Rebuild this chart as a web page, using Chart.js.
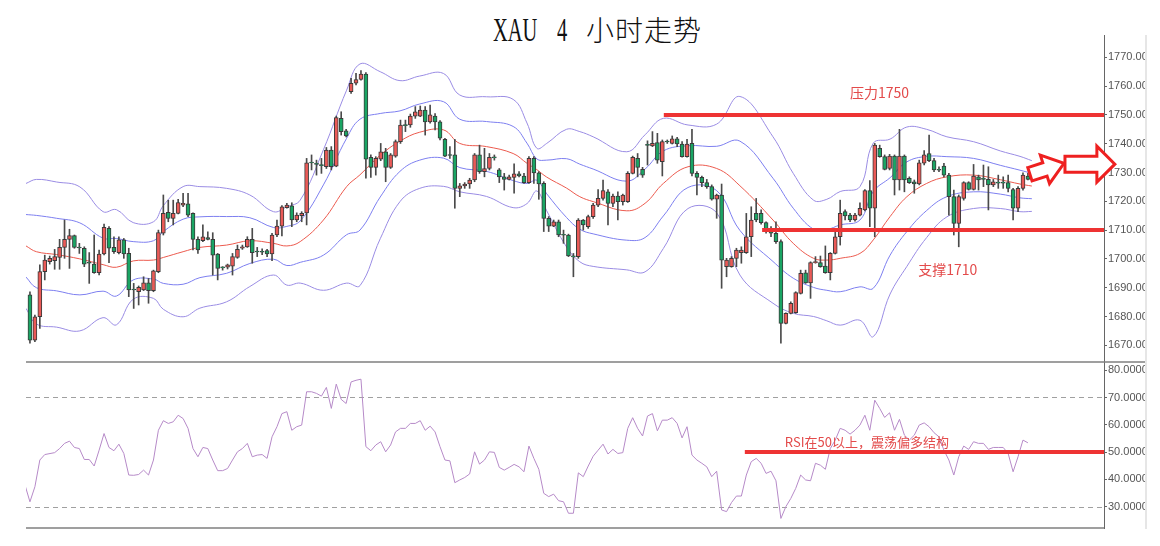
<!DOCTYPE html>
<html lang="zh">
<head>
<meta charset="utf-8">
<title>XAU 4 小时走势</title>
<script src="https://cdn.jsdelivr.net/npm/chart.js@4.4.1/dist/chart.umd.min.js"></script>
<style>
  body { margin: 0; background: #fff; }
  #page { position: relative; width: 1160px; height: 546px; overflow: hidden; background: #fff; }
  #title span { position: absolute; white-space: pre; color: #111; }
  #title .lat { top: 14px; font: 33px/33px 'Liberation Serif', serif; transform: scaleX(0.62); transform-origin: 0 0; }
  #title .cjk { top: 15px; left: 586px; font: 300 28px/28px 'Noto Sans CJK SC', sans-serif; letter-spacing: 1px; }
  .panel { position: absolute; left: 0; width: 1145px; }
  #main-panel { top: 35px; height: 327px; }
  #rsi-panel { top: 361px; height: 168px; }
  #edge { position: absolute; left: 1145px; top: 35px; width: 2px; height: 494px; background: #e6e6e6; }
</style>
</head>
<body>
<div id="page">
  <div id="title"><span class="lat" style="left:493px">XAU</span><span class="lat" style="left:557px">4</span><span class="cjk">小时走势</span></div>
  <div class="panel" id="main-panel"><canvas id="main-chart"></canvas></div>
  <div class="panel" id="rsi-panel"><canvas id="rsi-chart"></canvas></div>
  <div id="edge"></div>
</div>
<script>
// 4h candles, index 0 = first bar on the left
const candleOpen = [
  1687.5, 1671.8, 1679.9, 1695.6, 1699.0, 1699.4, 1700.5, 1704.0, 1706.8, 1708.1,
  1704.0, 1703.7, 1698.7, 1698.2, 1695.2, 1701.7, 1710.6, 1704.0, 1702.2, 1706.6,
  1701.9, 1689.4, 1688.6, 1689.2, 1691.7, 1689.0, 1695.6, 1708.9, 1716.2, 1714.1,
  1715.8, 1718.7, 1719.1, 1715.8, 1706.8, 1706.3, 1707.4, 1706.8, 1701.7, 1697.0,
  1697.1, 1697.5, 1700.5, 1703.7, 1704.2, 1706.8, 1702.5, 1702.5, 1702.9, 1701.7,
  1708.3, 1711.4, 1717.8, 1718.4, 1713.5, 1715.0, 1716.0, 1733.5, 1733.0, 1732.6,
  1732.0, 1737.8, 1732.2, 1748.8, 1744.5, 1758.1, 1761.0, 1762.3, 1764.2, 1735.3,
  1731.8, 1734.6, 1737.2, 1731.8, 1735.7, 1740.7, 1746.5, 1746.5, 1749.6, 1749.6,
  1751.7, 1747.6, 1749.6, 1747.6, 1741.5, 1736.1, 1736.1, 1724.5, 1725.3, 1726.0,
  1727.4, 1736.1, 1730.3, 1731.4, 1735.3, 1730.9, 1728.5, 1727.6, 1728.3, 1729.5,
  1728.8, 1726.5, 1734.9, 1729.9, 1726.2, 1714.1, 1711.4, 1712.9, 1708.4, 1708.3,
  1700.9, 1700.8, 1713.5, 1711.2, 1714.7, 1718.7, 1721.0, 1723.3, 1719.3, 1721.8,
  1719.9, 1719.9, 1729.7, 1734.9, 1731.1, 1739.6, 1739.2, 1740.4, 1733.8, 1740.8,
  1740.1, 1741.7, 1739.9, 1735.5, 1740.1, 1729.7, 1728.3, 1726.5, 1725.1, 1720.7,
  1722.2, 1697.3, 1697.3, 1700.2, 1702.2, 1702.2, 1707.7, 1715.8, 1715.8, 1712.6,
  1710.0, 1708.9, 1706.0, 1677.6, 1681.1, 1681.3, 1688.0, 1695.2, 1691.7, 1698.7,
  1698.7, 1697.5, 1695.2, 1701.9, 1707.7, 1716.4, 1715.2, 1713.5, 1715.2, 1717.0,
  1723.7, 1717.6, 1738.4, 1735.5, 1731.4, 1735.7, 1727.4, 1735.7, 1728.0, 1726.8,
  1726.0, 1733.2, 1736.6, 1734.1, 1731.0, 1732.2, 1729.1, 1721.6, 1712.3, 1721.0,
  1726.5, 1724.1, 1728.5, 1728.0, 1727.6, 1725.7, 1726.5, 1726.5, 1726.5, 1724.1,
  1717.6, 1724.5, 1728.8
];
const candleHigh = [
  1688.6, 1680.5, 1697.9, 1701.3, 1701.0, 1703.3, 1706.8, 1713.5, 1710.3, 1708.3,
  1705.4, 1704.2, 1702.2, 1708.3, 1703.1, 1712.1, 1711.2, 1707.7, 1707.7, 1707.1,
  1703.7, 1691.5, 1690.6, 1693.8, 1693.2, 1696.1, 1710.0, 1722.2, 1720.4, 1720.4,
  1720.7, 1722.8, 1722.8, 1716.0, 1707.7, 1711.8, 1709.4, 1709.1, 1701.9, 1697.3,
  1698.2, 1701.9, 1704.8, 1704.8, 1707.7, 1710.6, 1704.0, 1703.5, 1703.3, 1708.9,
  1713.5, 1718.5, 1719.3, 1719.5, 1716.0, 1716.4, 1734.9, 1736.1, 1734.3, 1734.9,
  1738.7, 1739.0, 1749.6, 1751.1, 1745.0, 1762.7, 1764.4, 1765.4, 1764.7, 1736.1,
  1735.5, 1740.1, 1738.4, 1736.6, 1741.3, 1748.2, 1748.2, 1750.3, 1752.9, 1753.1,
  1752.9, 1753.4, 1750.5, 1748.0, 1741.9, 1739.0, 1741.5, 1726.2, 1726.5, 1728.0,
  1736.6, 1739.5, 1738.4, 1736.6, 1736.1, 1731.4, 1729.7, 1729.1, 1733.0, 1730.3,
  1729.7, 1735.5, 1735.5, 1730.3, 1726.8, 1714.7, 1713.5, 1713.5, 1710.0, 1708.6,
  1701.9, 1714.0, 1713.7, 1715.2, 1719.3, 1724.1, 1727.4, 1724.1, 1722.5, 1723.3,
  1722.5, 1730.3, 1735.7, 1736.6, 1731.8, 1741.0, 1744.2, 1743.6, 1741.3, 1741.3,
  1742.7, 1742.2, 1740.7, 1741.5, 1745.0, 1730.3, 1728.8, 1727.6, 1725.7, 1722.5,
  1726.0, 1700.2, 1700.8, 1703.7, 1704.2, 1715.8, 1718.1, 1721.0, 1717.0, 1712.9,
  1711.2, 1712.9, 1706.6, 1681.3, 1685.1, 1688.6, 1696.1, 1696.1, 1699.0, 1700.8,
  1701.0, 1704.5, 1702.2, 1710.6, 1720.4, 1717.0, 1715.8, 1715.8, 1719.5, 1724.1,
  1727.2, 1740.1, 1739.5, 1736.1, 1736.3, 1736.1, 1745.0, 1736.1, 1728.5, 1727.4,
  1734.3, 1737.6, 1743.0, 1734.9, 1732.0, 1733.2, 1729.7, 1723.9, 1722.2, 1726.8,
  1726.8, 1732.8, 1729.1, 1732.6, 1732.0, 1727.6, 1729.1, 1728.5, 1729.1, 1724.5,
  1725.1, 1729.9, 1729.7
];
const candleLow = [
  1670.7, 1671.3, 1675.9, 1692.7, 1698.2, 1696.4, 1696.4, 1700.2, 1696.7, 1703.7,
  1701.9, 1697.3, 1691.5, 1695.0, 1694.4, 1701.4, 1698.7, 1701.9, 1701.7, 1700.2,
  1686.9, 1682.8, 1684.0, 1689.0, 1684.6, 1688.6, 1695.2, 1708.3, 1712.9, 1711.8,
  1715.6, 1718.1, 1714.7, 1703.1, 1701.9, 1706.0, 1706.6, 1694.4, 1692.7, 1696.1,
  1696.5, 1694.4, 1700.2, 1703.3, 1704.0, 1698.5, 1700.8, 1701.5, 1700.8, 1699.4,
  1707.7, 1708.0, 1717.6, 1711.2, 1712.9, 1712.9, 1711.8, 1730.9, 1729.1, 1729.7,
  1731.4, 1730.9, 1732.0, 1743.0, 1742.4, 1757.5, 1760.4, 1762.1, 1728.0, 1728.3,
  1729.1, 1734.1, 1726.8, 1731.4, 1735.3, 1740.1, 1744.2, 1745.7, 1748.8, 1749.4,
  1743.0, 1747.1, 1744.8, 1741.3, 1735.5, 1734.9, 1717.6, 1721.6, 1724.5, 1724.5,
  1726.8, 1729.7, 1728.5, 1730.9, 1734.3, 1726.5, 1723.9, 1727.4, 1722.8, 1728.5,
  1726.2, 1726.2, 1726.2, 1720.7, 1709.5, 1709.5, 1711.2, 1707.7, 1705.4, 1700.8,
  1693.8, 1700.2, 1710.0, 1710.6, 1714.1, 1718.1, 1720.4, 1711.8, 1718.1, 1713.5,
  1718.7, 1719.6, 1729.5, 1728.5, 1728.3, 1732.6, 1739.0, 1733.2, 1728.8, 1740.1,
  1739.9, 1739.0, 1735.3, 1735.3, 1728.8, 1722.2, 1725.1, 1724.5, 1720.4, 1714.1,
  1689.8, 1693.8, 1697.1, 1697.3, 1698.5, 1701.9, 1700.8, 1712.9, 1712.1, 1708.9,
  1707.7, 1705.4, 1670.7, 1677.4, 1680.9, 1681.1, 1687.8, 1691.5, 1686.3, 1698.5,
  1697.1, 1695.0, 1692.7, 1701.7, 1704.8, 1713.5, 1712.9, 1713.1, 1714.9, 1716.7,
  1711.2, 1707.7, 1735.3, 1730.9, 1730.9, 1722.2, 1723.9, 1723.3, 1726.2, 1722.8,
  1725.7, 1732.6, 1733.8, 1730.3, 1730.3, 1728.5, 1715.2, 1708.3, 1704.2, 1720.4,
  1723.9, 1723.9, 1723.9, 1725.1, 1717.0, 1725.1, 1724.5, 1724.5, 1723.3, 1713.5,
  1716.4, 1723.9, 1727.4
];
const candleClose = [
  1671.8, 1679.9, 1695.6, 1699.6, 1700.2, 1700.8, 1704.0, 1706.8, 1708.1, 1704.0,
  1703.8, 1698.2, 1698.5, 1695.2, 1701.7, 1711.0, 1703.7, 1702.5, 1706.6, 1701.7,
  1689.2, 1689.2, 1690.1, 1691.7, 1689.0, 1695.9, 1709.1, 1715.8, 1714.1, 1715.8,
  1719.6, 1719.3, 1715.2, 1706.8, 1703.1, 1707.7, 1706.8, 1701.3, 1696.7, 1696.9,
  1697.9, 1700.8, 1703.3, 1704.2, 1706.8, 1702.2, 1702.4, 1702.3, 1701.7, 1708.3,
  1711.4, 1718.1, 1718.7, 1713.5, 1715.2, 1715.8, 1733.4, 1733.3, 1732.8, 1732.4,
  1737.8, 1732.0, 1749.1, 1744.2, 1742.7, 1761.0, 1762.3, 1764.2, 1734.6, 1731.8,
  1734.9, 1737.2, 1731.8, 1736.1, 1740.7, 1746.5, 1746.3, 1749.6, 1751.1, 1751.7,
  1747.6, 1750.0, 1747.6, 1741.9, 1735.7, 1735.9, 1724.5, 1725.4, 1726.0, 1727.4,
  1736.1, 1730.3, 1731.4, 1735.3, 1735.1, 1728.5, 1727.6, 1728.5, 1729.5, 1728.8,
  1726.5, 1734.9, 1729.9, 1726.0, 1714.1, 1711.4, 1712.9, 1708.3, 1708.2, 1701.0,
  1700.7, 1713.5, 1711.8, 1714.7, 1718.7, 1721.0, 1723.7, 1719.3, 1721.8, 1719.9,
  1722.2, 1729.7, 1735.3, 1731.8, 1729.1, 1739.4, 1740.1, 1734.3, 1740.7, 1740.6,
  1741.7, 1739.9, 1735.5, 1739.9, 1729.7, 1728.3, 1726.5, 1725.1, 1720.7, 1722.2,
  1699.6, 1699.6, 1700.2, 1703.1, 1703.1, 1707.7, 1713.5, 1713.5, 1712.6, 1710.0,
  1708.9, 1706.0, 1677.6, 1681.1, 1684.6, 1688.3, 1695.0, 1691.7, 1698.7, 1699.0,
  1697.3, 1695.2, 1701.9, 1707.7, 1715.8, 1714.9, 1713.5, 1715.2, 1717.6, 1723.7,
  1717.6, 1739.5, 1735.5, 1731.1, 1735.7, 1727.4, 1735.7, 1727.4, 1726.5, 1726.0,
  1733.4, 1736.1, 1734.1, 1730.9, 1730.8, 1729.1, 1721.6, 1712.3, 1721.6, 1726.5,
  1724.1, 1728.8, 1727.4, 1727.6, 1725.7, 1726.8, 1726.3, 1726.3, 1724.5, 1717.6,
  1724.5, 1729.1, 1727.6
];

// bollinger bands at these bar positions
const bandIdx = [
  -0.8, 1.3, 5.4, 10.1, 14.8, 17.5, 20.9, 25, 27, 31, 34.4, 39.8, 44.5, 49.3, 52, 54.7,
  59.4, 64.1, 66.8, 70.9, 74.9, 78.9, 83.7, 87, 92.4, 97.8, 100.6, 102.6, 104.6, 108.6,
  111.3, 114, 120.8, 124.5, 128.2, 133.2, 139, 143.7, 150.4, 154.5, 158.6, 161.3, 164,
  168, 170.7, 174.1, 177.5, 181.5, 185.6, 191, 196.4, 200.4, 202.8
];
const bandMid = [
  1704.5, 1702.5, 1701.5, 1700.0, 1698.0, 1697.1, 1699.3, 1699.6, 1700.5, 1702.5, 1704.0,
  1704.8, 1706.3, 1705.4, 1704.5, 1706.0, 1713.5, 1725.1, 1729.2, 1736.0, 1740.9, 1744.0,
  1744.8, 1740.1, 1739.0, 1736.6, 1733.2, 1731.0, 1728.4, 1724.6, 1721.6, 1719.9, 1716.7,
  1719.3, 1726.2, 1732.0, 1731.4, 1725.4, 1713.5, 1705.4, 1700.2, 1699.6, 1700.2, 1701.9,
  1706.6, 1714.7, 1721.6, 1726.2, 1728.5, 1729.1, 1727.5, 1726.0, 1725.3
];
const bandUpper2 = [
  1726.2, 1727.6, 1726.7, 1725.0, 1716.4, 1717.1, 1712.6, 1712.9, 1718.5, 1725.1, 1725.1,
  1724.5, 1722.2, 1716.4, 1718.1, 1720.4, 1737.9, 1758.6, 1767.7, 1765.0, 1761.9, 1763.5,
  1764.4, 1756.9, 1756.3, 1755.4, 1747.2, 1738.4, 1740.1, 1745.0, 1744.2, 1742.4, 1737.2,
  1743.1, 1748.8, 1746.5, 1746.8, 1756.4, 1742.4, 1729.7, 1720.4, 1720.7, 1723.4, 1725.1,
  1740.2, 1741.6, 1745.8, 1745.0, 1742.4, 1740.7, 1737.5, 1735.6, 1734.1
];
const bandUpper1 = [
  1715.4, 1715.1, 1714.1, 1712.5, 1707.2, 1707.1, 1706.0, 1706.3, 1709.5, 1713.8, 1714.6,
  1714.7, 1714.3, 1710.9, 1711.3, 1713.2, 1725.7, 1741.9, 1748.5, 1750.5, 1751.4, 1753.8,
  1754.6, 1748.5, 1747.7, 1746.0, 1740.2, 1734.7, 1734.3, 1734.8, 1732.9, 1731.2, 1727.0,
  1731.2, 1737.5, 1739.3, 1739.1, 1740.9, 1728.0, 1717.6, 1710.3, 1710.2, 1711.8, 1713.5,
  1723.4, 1728.2, 1733.7, 1735.6, 1735.5, 1734.9, 1732.5, 1730.8, 1729.7
];
const bandLower1 = [
  1693.7, 1690.0, 1688.9, 1687.5, 1688.8, 1687.1, 1692.7, 1693.0, 1691.5, 1691.2, 1693.5,
  1695.0, 1698.4, 1699.9, 1697.7, 1698.8, 1701.3, 1708.4, 1710.0, 1721.5, 1730.4, 1734.3,
  1735.0, 1731.7, 1730.4, 1727.2, 1726.2, 1727.3, 1722.6, 1714.4, 1710.3, 1708.7, 1706.5,
  1707.4, 1714.9, 1724.8, 1723.7, 1709.9, 1699.1, 1693.3, 1690.1, 1689.1, 1688.6, 1690.3,
  1689.8, 1701.3, 1709.5, 1716.8, 1721.6, 1723.3, 1722.5, 1721.2, 1720.9
];
const bandLower2 = [
  1682.8, 1677.4, 1676.3, 1675.0, 1679.6, 1677.1, 1686.0, 1686.3, 1682.5, 1679.9, 1682.9,
  1685.1, 1690.4, 1694.4, 1690.9, 1691.6, 1689.1, 1691.6, 1690.7, 1707.0, 1719.9, 1724.5,
  1725.2, 1723.3, 1721.7, 1717.8, 1719.2, 1723.6, 1716.7, 1704.2, 1699.0, 1697.4, 1696.2,
  1695.5, 1703.6, 1717.5, 1716.0, 1694.4, 1684.6, 1681.1, 1680.0, 1678.5, 1677.0, 1678.7,
  1673.0, 1687.8, 1697.4, 1707.4, 1714.6, 1717.5, 1717.5, 1716.4, 1716.5
];

// RSI: first five readings, then one per bar from bar 5 to bar 202
const rsiHead = [37.9, 31.8, 37.3, 47.1, 49.1];
const rsiHeadIdx = [-1, 0, 1, 2, 3];
const rsiBody = [
  49.8, 51.3, 53.2, 54.0, 51.7, 51.3, 47.3, 47.3, 44.9, 50.7,
  56.8, 51.7, 50.5, 52.9, 49.5, 41.6, 41.5, 41.8, 43.4, 41.6,
  47.1, 58.0, 61.5, 60.5, 61.1, 63.5, 62.3, 58.7, 51.3, 48.3,
  51.7, 51.3, 47.1, 43.2, 43.2, 44.0, 47.1, 50.1, 51.3, 53.2,
  48.3, 48.9, 49.1, 47.7, 55.6, 59.3, 64.1, 64.8, 58.0, 59.3,
  59.9, 72.1, 72.1, 71.5, 70.5, 73.7, 66.0, 74.9, 69.3, 67.8,
  75.7, 76.3, 76.7, 52.0, 50.5, 52.6, 53.8, 50.1, 52.6, 57.4,
  58.7, 58.7, 60.5, 60.5, 61.5, 58.0, 59.5, 57.4, 52.0, 47.1,
  46.8, 38.8, 39.8, 40.7, 42.0, 50.1, 45.6, 47.1, 50.1, 49.9,
  44.4, 43.4, 44.4, 45.5, 44.6, 42.8, 52.2, 47.7, 43.7, 34.9,
  33.7, 34.6, 32.2, 31.8, 27.6, 27.6, 42.4, 41.0, 44.9, 48.5,
  50.7, 52.9, 49.3, 51.0, 49.5, 49.8, 58.7, 62.6, 58.7, 55.9,
  63.2, 64.1, 57.8, 61.7, 61.7, 62.6, 60.5, 55.2, 59.3, 48.9,
  47.1, 45.9, 44.6, 41.0, 43.0, 28.8, 28.2, 31.5, 33.9, 33.9,
  41.6, 46.5, 47.7, 45.9, 42.2, 43.0, 39.5, 25.7, 30.0, 33.0,
  36.7, 41.6, 39.8, 39.5, 45.9, 45.2, 43.7, 51.3, 54.4, 58.7,
  58.0, 56.6, 58.0, 59.9, 63.5, 58.0, 69.0, 66.0, 62.7, 64.4,
  58.0, 62.0, 56.2, 54.4, 56.2, 59.9, 60.7, 59.3, 57.1, 55.6,
  50.7, 47.1, 41.6, 48.3, 52.2, 51.0, 53.8, 53.2, 53.2, 51.0,
  51.7, 51.7, 51.7, 49.5, 42.8, 48.3, 54.4, 53.4
];
const RSI_BODY_START = 5;

const priceTicks = [1670, 1680, 1690, 1700, 1710, 1720, 1730, 1740, 1750, 1760, 1770];
const rsiTicks = [30, 40, 50, 60, 70, 80];
const rsiGuides = [70, 30];

// annotations
const levelPrices = [1750, 1710];
const levelFrom = [128.3, 148.2];
const levelLabels = ['压力1750', '支撑1710'];
const levelLabelAt = [[166, 1757.6], [179.8, 1696.4]];
const rsiLevel = 50;
const rsiLevelFrom = 144.7;
const rsiNote = 'RSI在50以上，震荡偏多结构';
const rsiNoteAt = [152.8, 53.7];

const X_MIN = -0.8;
const X_MAX = 217.4;
const UP = '#ea5a57';
const DOWN = '#1aa564';
const MARK_RED = '#ee3333';
const NOTE_RED = '#e34b4b';

document.addEventListener('DOMContentLoaded', function() {
  const bodyColors = candleOpen.map((o, i) => candleClose[i] >= o ? UP : DOWN);

  function band(values, color) {
    return {
      type: 'line',
      data: bandIdx.map((x, k) => ({ x: x, y: values[k] })),
      borderColor: color,
      borderWidth: 1,
      pointRadius: 0,
      tension: 0.4,
      order: 3
    };
  }

  function rightAxis(min, max, ticks, digits) {
    return {
      position: 'right',
      min: min,
      max: max,
      afterFit: function(scale) {
        // keep the plot area flush with the panel edges
        scale.width = 41;
        scale.paddingTop = 0;
        scale.paddingBottom = 0;
      },
      afterBuildTicks: function(scale) { scale.ticks = ticks.map(v => ({ value: v })); },
      grid: { drawOnChartArea: false, drawTicks: true, tickLength: 3, color: '#666' },
      border: { display: true, color: '#666', width: 1 },
      ticks: {
        padding: 1,
        color: '#555',
        font: { family: 'Liberation Sans', size: 11 },
        callback: v => Number(v).toFixed(digits)
      }
    };
  }

  function drawArrow(ctx, x0, y0, x1, y1, body, head, headLen) {
    const len = Math.hypot(x1 - x0, y1 - y0);
    ctx.save();
    ctx.translate(x0, y0);
    ctx.rotate(Math.atan2(y1 - y0, x1 - x0));
    ctx.beginPath();
    ctx.moveTo(0, -body);
    ctx.lineTo(len - headLen, -body);
    ctx.lineTo(len - headLen, -head);
    ctx.lineTo(len, 0);
    ctx.lineTo(len - headLen, head);
    ctx.lineTo(len - headLen, body);
    ctx.lineTo(0, body);
    ctx.closePath();
    ctx.fillStyle = '#fff';
    ctx.fill();
    ctx.lineWidth = 3;
    ctx.lineJoin = 'miter';
    ctx.strokeStyle = '#ee2020';
    ctx.stroke();
    ctx.restore();
  }

  const mainMarks = {
    id: 'mainMarks',
    afterDraw(chart) {
      const { ctx, chartArea, scales: { x, y } } = chart;
      ctx.save();
      ctx.strokeStyle = MARK_RED;
      ctx.lineWidth = 4;
      levelPrices.forEach((p, k) => {
        const py = Math.round(y.getPixelForValue(p));
        ctx.beginPath();
        ctx.moveTo(x.getPixelForValue(levelFrom[k]), py);
        ctx.lineTo(chartArea.right, py);
        ctx.stroke();
      });
      ctx.fillStyle = NOTE_RED;
      ctx.font = '14px "Noto Sans CJK SC"';
      ctx.textBaseline = 'middle';
      ctx.textAlign = 'left';
      levelLabels.forEach((t, k) => {
        ctx.fillText(t, x.getPixelForValue(levelLabelAt[k][0]), y.getPixelForValue(levelLabelAt[k][1]));
      });
      ctx.restore();

      // the two outlined arrows on the right
      drawArrow(ctx, x.getPixelForValue(202.4), y.getPixelForValue(1729.4),
                x.getPixelForValue(209.3), y.getPixelForValue(1733.2), 7, 15, 20);
      drawArrow(ctx, x.getPixelForValue(209.5), y.getPixelForValue(1732.9),
                x.getPixelForValue(219.6), y.getPixelForValue(1732.9), 8, 18, 18);
    }
  };

  const rsiMarks = {
    id: 'rsiMarks',
    beforeDatasetsDraw(chart) {
      const { ctx, chartArea, scales: { y } } = chart;
      ctx.save();
      ctx.strokeStyle = '#a0a0a0';
      ctx.lineWidth = 1;
      ctx.setLineDash([5, 4]);
      rsiGuides.forEach(v => {
        const py = Math.round(y.getPixelForValue(v)) + 0.5;
        ctx.beginPath();
        ctx.moveTo(chartArea.left, py);
        ctx.lineTo(chartArea.right, py);
        ctx.stroke();
      });
      ctx.restore();
    },
    afterDraw(chart) {
      const { ctx, chartArea, scales: { x, y } } = chart;
      ctx.save();
      ctx.strokeStyle = '#808080';
      ctx.lineWidth = 1.5;
      ctx.beginPath();
      ctx.moveTo(chartArea.left, chartArea.top);
      ctx.lineTo(chart.width, chartArea.top);
      ctx.moveTo(chartArea.left, chartArea.bottom);
      ctx.lineTo(chartArea.right, chartArea.bottom);
      ctx.stroke();

      ctx.strokeStyle = MARK_RED;
      ctx.lineWidth = 4;
      const py = Math.round(y.getPixelForValue(rsiLevel));
      ctx.beginPath();
      ctx.moveTo(x.getPixelForValue(rsiLevelFrom), py);
      ctx.lineTo(chartArea.right, py);
      ctx.stroke();

      ctx.fillStyle = NOTE_RED;
      ctx.font = '13px "Noto Sans CJK SC"';
      ctx.textBaseline = 'middle';
      ctx.fillText(rsiNote, x.getPixelForValue(rsiNoteAt[0]), y.getPixelForValue(rsiNoteAt[1]));
      ctx.restore();
    }
  };

  new Chart(document.getElementById('main-chart'), {
    type: 'bar',
    data: {
      datasets: [
        {
          data: candleOpen.map((o, i) => ({ x: i, y: [o, candleClose[i]] })),
          backgroundColor: bodyColors,
          borderColor: '#3a3a3a',
          borderWidth: 1,
          borderSkipped: false,
          barThickness: 4,
          minBarLength: 1,
          grouped: false,
          order: 1
        },
        {
          data: candleLow.map((l, i) => ({ x: i, y: [l, candleHigh[i]] })),
          backgroundColor: '#4a4a4a',
          borderWidth: 0,
          barThickness: 1,
          grouped: false,
          order: 2
        },
        band(bandMid, '#ec5a4e'),
        band(bandUpper1, '#7d7ff0'),
        band(bandLower1, '#7d7ff0'),
        band(bandUpper2, '#9a8ce4'),
        band(bandLower2, '#9a8ce4')
      ]
    },
    options: {
      animation: false,
      responsive: true,
      maintainAspectRatio: false,
      devicePixelRatio: 1,
      layout: { autoPadding: false, padding: { left: 26, right: 0, top: 0, bottom: 0 } },
      plugins: { legend: { display: false }, tooltip: { enabled: false } },
      scales: {
        x: { type: 'linear', min: X_MIN, max: X_MAX, offset: false, display: false },
        y: rightAxis(1664.2, 1777.75, priceTicks, 2)
      }
    },
    plugins: [mainMarks]
  });

  const rsiPoints = rsiHead.map((v, k) => ({ x: rsiHeadIdx[k], y: v }))
    .concat(rsiBody.map((v, k) => ({ x: RSI_BODY_START + k, y: v })));

  new Chart(document.getElementById('rsi-chart'), {
    type: 'line',
    data: {
      datasets: [{
        data: rsiPoints,
        borderColor: '#b68ac8',
        borderWidth: 1,
        pointRadius: 0,
        tension: 0
      }]
    },
    options: {
      animation: false,
      responsive: true,
      maintainAspectRatio: false,
      devicePixelRatio: 1,
      layout: { autoPadding: false, padding: { left: 26, right: 0, top: 1, bottom: 1 } },
      plugins: { legend: { display: false }, tooltip: { enabled: false } },
      scales: {
        x: { type: 'linear', min: X_MIN, max: X_MAX, offset: false, display: false },
        y: rightAxis(22.2, 83.0, rsiTicks, 4)
      }
    },
    plugins: [rsiMarks]
  });
});
</script>
</body>
</html>
